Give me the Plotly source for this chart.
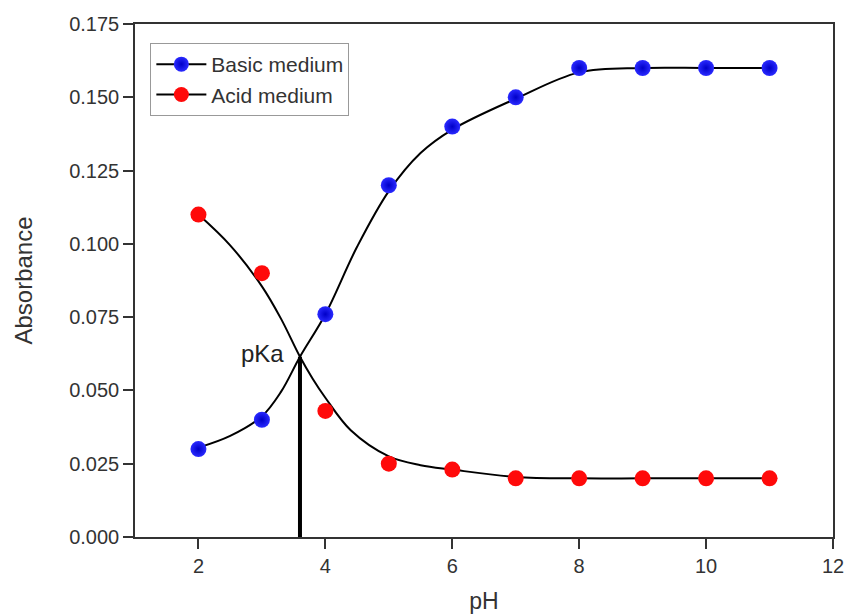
import plotly.graph_objects as go

# Measured points
ph = [2, 3, 4, 5, 6, 7, 8, 9, 10, 11]
basic_abs = [0.030, 0.040, 0.076, 0.120, 0.140, 0.150, 0.160, 0.160, 0.160, 0.160]
acid_abs = [0.110, 0.090, 0.043, 0.025, 0.023, 0.020, 0.020, 0.020, 0.020, 0.020]

# Fitted curves
basic_fit_x = [2, 2.5, 3, 3.3, 3.6, 4, 4.5, 5, 5.5, 6, 7, 8, 9, 10, 11]
basic_fit_y = [0.0305, 0.0345, 0.0412, 0.0495, 0.0615, 0.0760, 0.0990, 0.1180, 0.1310, 0.1390, 0.1495, 0.1585, 0.1600, 0.1600, 0.1600]
acid_fit_x = [2, 2.5, 3, 3.3, 3.6, 3.8, 4, 4.4, 5, 5.5, 6, 7, 8, 9, 10, 11]
acid_fit_y = [0.1100, 0.0995, 0.0855, 0.0745, 0.0615, 0.0540, 0.0475, 0.0364, 0.0275, 0.0245, 0.0230, 0.0205, 0.0200, 0.0200, 0.0200, 0.0200]

# pKa marker
pka_x = [3.6, 3.6]
pka_y = [0.0, 0.0615]
pka_label = "pKa"

x_ticks = [2, 4, 6, 8, 10, 12]
y_ticks = [0.000, 0.025, 0.050, 0.075, 0.100, 0.125, 0.150, 0.175]

BLUE = "#2a2aff"
BLUE_EDGE = "#0000c8"
RED = "#ff0a0a"
FONT = "Liberation Sans, Arial, sans-serif"
TXT = "#333333"

fig = go.Figure()

fig.add_trace(go.Scatter(x=basic_fit_x, y=basic_fit_y, mode="lines",
                         line=dict(color="black", width=2, shape="spline", smoothing=1.0),
                         showlegend=False, hoverinfo="skip"))
fig.add_trace(go.Scatter(x=acid_fit_x, y=acid_fit_y, mode="lines",
                         line=dict(color="black", width=2, shape="spline", smoothing=1.0),
                         showlegend=False, hoverinfo="skip"))
fig.add_trace(go.Scatter(x=pka_x, y=pka_y, mode="lines",
                         line=dict(color="black", width=4),
                         showlegend=False, hoverinfo="skip"))

fig.add_trace(go.Scatter(x=ph, y=basic_abs, mode="markers",
                         marker=dict(color=BLUE, size=16, line=dict(width=0),
                                     gradient=dict(type="radial", color=BLUE_EDGE)),
                         showlegend=False))
fig.add_trace(go.Scatter(x=ph, y=acid_abs, mode="markers",
                         marker=dict(color=RED, size=16, line=dict(width=0)),
                         showlegend=False))

# legend entries
fig.add_trace(go.Scatter(x=[None], y=[None], mode="lines+markers", name="Basic medium",
                         line=dict(color="black", width=2),
                         marker=dict(color=BLUE, size=15, gradient=dict(type="radial", color=BLUE_EDGE))))
fig.add_trace(go.Scatter(x=[None], y=[None], mode="lines+markers", name="Acid medium",
                         line=dict(color="black", width=2),
                         marker=dict(color=RED, size=15)))

fig.add_annotation(x=pka_x[1], y=pka_y[1], text=pka_label, showarrow=False,
                   xanchor="right", yanchor="middle", xshift=-14, yshift=3,
                   font=dict(size=24, color="#222222", family=FONT))

axis_common = dict(showline=True, linecolor="#333333", linewidth=1.5, mirror=True,
                   ticks="outside", ticklen=10, tickwidth=1.5, tickcolor="#333333",
                   showgrid=False, zeroline=False, automargin=False,
                   tickfont=dict(size=20, color=TXT, family=FONT))

fig.update_xaxes(range=[1, 12], tickvals=x_ticks, ticktext=[str(v) for v in x_ticks],
                 title=dict(text="pH", font=dict(size=23, color=TXT, family=FONT), standoff=22),
                 **axis_common)
fig.update_yaxes(range=[0, 0.175], tickvals=y_ticks, ticktext=[f"{v:.3f}" for v in y_ticks],
                 title=dict(text="Absorbance", font=dict(size=24, color=TXT, family=FONT), standoff=30),
                 **axis_common)

fig.update_layout(
    width=848, height=614,
    margin=dict(l=135, r=15, t=24, b=77),
    paper_bgcolor="white", plot_bgcolor="white",
    font=dict(family=FONT, color=TXT),
    legend=dict(x=0.022, y=0.963, xanchor="left", yanchor="top",
                bgcolor="white", bordercolor="#999999", borderwidth=1,
                font=dict(size=21, color=TXT, family=FONT),
                tracegroupgap=0, itemwidth=50),
)

fig.write_html("out.html")
